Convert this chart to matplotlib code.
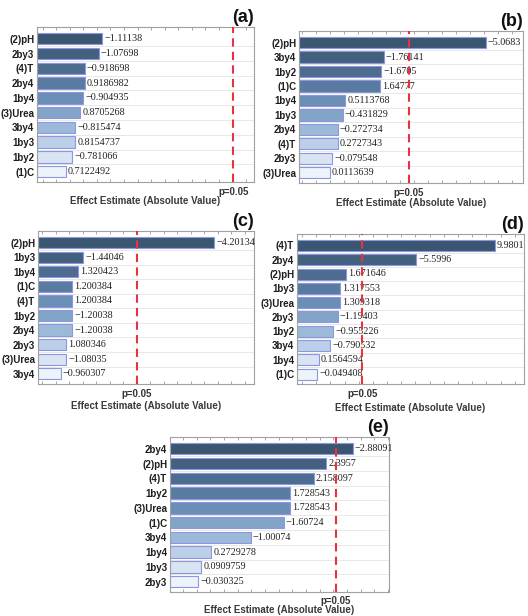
import numpy as np
import matplotlib
matplotlib.use("Agg")
import matplotlib.pyplot as plt
from matplotlib.ticker import MultipleLocator

W, H = 528, 616

# panel data: factor labels (top to bottom) and effect estimates
labels_a = ["(2)pH", "2by3", "(4)T", "2by4", "1by4", "(3)Urea", "3by4", "1by3", "1by2", "(1)C"]
values_a = [-1.11138, -1.07698, -0.918698, 0.9186982, -0.904935, 0.8705268, -0.815474, 0.8154737, -0.781066, 0.7122492]

labels_b = ["(2)pH", "3by4", "1by2", "(1)C", "1by4", "1by3", "2by4", "(4)T", "2by3", "(3)Urea"]
values_b = [-5.0683, -1.76141, -1.6705, 1.64777, 0.5113768, -0.431829, -0.272734, 0.2727343, -0.079548, 0.0113639]

labels_c = ["(2)pH", "1by3", "1by4", "(1)C", "(4)T", "1by2", "2by4", "2by3", "(3)Urea", "3by4"]
values_c = [-4.20134, -1.44046, 1.320423, 1.200384, 1.200384, -1.20038, -1.20038, 1.080346, -1.08035, -0.960307]

labels_d = ["(4)T", "2by4", "(2)pH", "1by3", "(3)Urea", "2by3", "1by2", "3by4", "1by4", "(1)C"]
values_d = [9.9801, -5.5996, 1.671646, 1.317553, 1.309318, -1.19403, -0.955226, -0.790532, 0.1564594, -0.049408]

labels_e = ["2by4", "(2)pH", "(4)T", "1by2", "(3)Urea", "(1)C", "3by4", "1by4", "1by3", "2by3"]
values_e = [-2.88091, 2.3957, 2.158097, 1.728543, 1.728543, -1.60724, -1.00074, 0.2729278, 0.0909759, -0.030325]

p_crit = 2.571  # t value at p=0.05

bar_colors = ["#3b5671", "#44607f", "#4d6c8f", "#5a7ba1", "#6b8eb6", "#82a4c9",
              "#9cb9d9", "#bbd0e8", "#d8e4f2", "#edf3fa"]

fig = plt.figure(figsize=(W / 100, H / 100), dpi=100)


def px_axes(l, t, r, b):
    return fig.add_axes([l / W, 1 - b / H, (r - l) / W, (b - t) / H])


def pareto(ax, labels, values, xlim, tag, p_off, xlab_off):
    n = len(values)
    y = np.arange(n)
    mag = np.abs(values)
    ax.barh(y, mag - xlim[0], left=xlim[0], height=0.77, color=bar_colors,
            edgecolor="#8c97e0", linewidth=0.8, zorder=2)
    for yi, v, m in zip(y, values, mag):
        ax.annotate(str(v).replace("-", "\u2212"), (m, yi), xytext=(1.5, 0),
                    textcoords="offset points", va="center", ha="left",
                    fontsize=7.3, family="Liberation Serif", color="#222222", zorder=3)
    for yi in y[:-1]:
        ax.axhline(yi + 0.5, color="#e4e4e4", lw=0.6, zorder=0)
    ax.axvline(p_crit, color="#e8333c", lw=1.5, dashes=(4, 2.5), zorder=4)
    ax.set_xlim(*xlim)
    ax.set_ylim(n - 0.3, -0.8)
    ax.set_yticks(y)
    ax.set_yticklabels(labels, fontsize=7, fontweight="bold", family="Liberation Sans", color="#1e1e1e")
    ax.tick_params(axis="y", length=0, pad=2)
    ax.set_xticks([])
    span = xlim[1] - xlim[0]
    ax.xaxis.set_minor_locator(MultipleLocator(span / 16))
    ax.tick_params(axis="x", which="minor", direction="in", length=2, color="#999999", top=True, bottom=True)
    for s in ax.spines.values():
        s.set_color("#a0a0a0")
        s.set_linewidth(0.8)
    ax.annotate("p=0.05", (p_crit, 0), xycoords=("data", "axes fraction"), xytext=(0, -p_off),
                textcoords="offset points", ha="center", va="center", fontsize=7,
                fontweight="bold", family="Liberation Sans", color="#333333")
    ax.annotate("Effect Estimate (Absolute Value)", (0.5, 0), xycoords="axes fraction",
                xytext=(0, -xlab_off), textcoords="offset points", ha="center", va="center",
                fontsize=7, fontweight="bold", family="Liberation Sans", color="#3a3a3a")
    ax.text(1.0, 1.006, tag, transform=ax.transAxes, ha="right", va="bottom",
            fontsize=13, fontweight="bold", family="Liberation Sans", color="#111111")


ax_a = px_axes(37, 27, 254, 182)
pareto(ax_a, labels_a, values_a, (0.39, 2.80), "(a)", 7.5, 13.5)

ax_b = px_axes(299, 31, 523, 183)
pareto(ax_b, labels_b, values_b, (-0.99, 6.28), "(b)", 7.5, 14.5)

ax_c = px_axes(38, 231, 254, 384)
pareto(ax_c, labels_c, values_c, (0.48, 5.04), "(c)", 7.5, 16)

ax_d = px_axes(297, 234, 524, 384)
pareto(ax_d, labels_d, values_d, (-1.07, 11.6), "(d)", 7.5, 17)

ax_e = px_axes(170, 437, 389, 592)
pareto(ax_e, labels_e, values_e, (-0.49, 3.55), "(e)", 6.5, 13)

fig.savefig("out.png", dpi=100)
